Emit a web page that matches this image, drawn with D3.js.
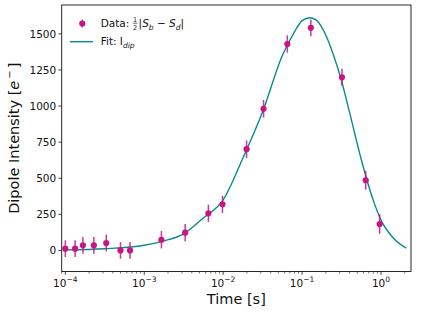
<!DOCTYPE html>
<html><head><meta charset="utf-8">
<script src="https://cdn.jsdelivr.net/npm/d3@7"></script>
<style>body{margin:0;background:#fff}svg{display:block;font-family:"DejaVu Sans",sans-serif}</style>
</head><body>
<svg id="c" width="424" height="313"></svg>
<script>
// Measured data
const times  = [1e-4, 1.33e-4, 1.67e-4, 2.3e-4, 3.3e-4, 5e-4, 6.6e-4, 1.65e-3, 3.3e-3, 6.5e-3, 9.8e-3, 0.0198, 0.0325, 0.065, 0.129, 0.32, 0.64, 0.96];
const values = [12, 12, 35, 35, 51, 0, 0, 74, 123, 257, 319, 701, 981, 1430, 1542, 1199, 486, 183];
const errors = [58, 58, 58, 58, 58, 58, 58, 60, 60, 60, 60, 61, 61, 60, 58, 59, 65, 68];
// Fit curve
const fitTimes  = [1e-4, 3.16e-4, 1e-3, 1.78e-3, 3.16e-3, 5.62e-3, 0.01, 0.0178, 0.0316, 0.0562, 0.0794, 0.1, 0.126, 0.158, 0.2, 0.251, 0.316, 0.398, 0.562, 0.794, 1.0, 1.41, 2.09];
const fitValues = [4, 12, 36, 66, 115, 225, 350, 640, 960, 1350, 1510, 1592, 1612, 1585, 1490, 1350, 1175, 960, 630, 350, 210, 90, 16];
const yTicks = [0, 250, 500, 750, 1000, 1250, 1500];
const xTickExps = [-4, -3, -2, -1, 0];

const svg = d3.select("#c");
const L = 61.7, R = 411, T = 5, B = 271.5;
const x = d3.scaleLog().domain([Math.pow(10,-4.046), Math.pow(10,0.38)]).range([L, R]);
const y = d3.scaleLinear().domain([-146, 1700]).range([B, T]);
const dataColor = "#C71585", fitColor = "#0a8a8c";

// fit line
const line = d3.line().x(d => x(d[0])).y(d => y(d[1])).curve(d3.curveMonotoneX);
svg.append("path").datum(fitTimes.map((t,i)=>[t, fitValues[i]]))
  .attr("d", line).attr("fill","none").attr("stroke", fitColor).attr("stroke-width",1.4);

// error bars + points
const g = svg.append("g");
times.forEach((t,i) => {
  g.append("line").attr("x1", x(t)).attr("x2", x(t))
    .attr("y1", y(values[i]-errors[i])).attr("y2", y(values[i]+errors[i]))
    .attr("stroke", dataColor).attr("stroke-width",1.5).attr("opacity",0.85);
});
times.forEach((t,i) => {
  g.append("circle").attr("cx", x(t)).attr("cy", y(values[i])).attr("r",3.1).attr("fill", dataColor);
});

// axes frame
svg.append("rect").attr("x",L).attr("y",T).attr("width",R-L).attr("height",B-T)
  .attr("fill","none").attr("stroke","#111").attr("stroke-width",0.9);

// y ticks
yTicks.forEach(v => {
  svg.append("line").attr("x1",L-3.3).attr("x2",L).attr("y1",y(v)).attr("y2",y(v)).attr("stroke","#111").attr("stroke-width",0.8);
  svg.append("text").attr("x",L-5.5).attr("y",y(v)).attr("dy","0.36em").attr("text-anchor","end")
    .attr("font-size","10.5px").attr("fill","#111").text(v);
});
// x major ticks
xTickExps.forEach(e => {
  const px = x(Math.pow(10,e));
  svg.append("line").attr("x1",px).attr("x2",px).attr("y1",B).attr("y2",B+3.3).attr("stroke","#111").attr("stroke-width",0.8);
  const t = svg.append("text").attr("x",px).attr("y",B+15.5).attr("text-anchor","middle").attr("font-size","10.5px").attr("fill","#111");
  t.append("tspan").text("10");
  t.append("tspan").attr("dy",-5).attr("font-size","7.5px").text(e===0 ? "0" : "\u2212"+(-e));
});
// x minor ticks
for (let e=-5; e<=0; e++) for (let m=2; m<=9; m++) {
  const v = m*Math.pow(10,e);
  if (v < x.domain()[0] || v > x.domain()[1]) continue;
  const px = x(v);
  svg.append("line").attr("x1",px).attr("x2",px).attr("y1",B).attr("y2",B+2).attr("stroke","#111").attr("stroke-width",0.6);
}

// axis labels
svg.append("text").attr("x",(L+R)/2).attr("y",304).attr("text-anchor","middle").attr("font-size","14.5px").attr("fill","#111").text("Time [s]");
const yl = svg.append("text").attr("transform",`translate(19,${(T+B)/2}) rotate(-90)`).attr("text-anchor","middle").attr("font-size","14.5px").attr("fill","#111");
yl.append("tspan").text("Dipole Intensity [");
yl.append("tspan").attr("font-style","italic").text("e");
yl.append("tspan").attr("dy",-6).attr("font-size","10px").text("\u2009\u2212\u2009");
yl.append("tspan").attr("dy",6).text("]");

// legend
const lg = svg.append("g");
lg.append("line").attr("x1",82.3).attr("x2",82.3).attr("y1",19.5).attr("y2",27.5).attr("stroke",dataColor).attr("stroke-width",1.5).attr("opacity",0.85);
lg.append("circle").attr("cx",82.3).attr("cy",23.5).attr("r",3.1).attr("fill",dataColor);
lg.append("line").attr("x1",70).attr("x2",93).attr("y1",41.7).attr("y2",41.7).attr("stroke",fitColor).attr("stroke-width",1.4);

const fs = 10.5;
const t1 = lg.append("text").attr("x",100.7).attr("y",27).attr("font-size",fs+"px").attr("fill","#111").text("Data:");
const w1 = t1.node().getComputedTextLength();
const fx = 100.7 + w1 + 3.3 + 2.5;
lg.append("text").attr("x",fx).attr("y",21.5).attr("text-anchor","middle").attr("font-size","6.5px").attr("fill","#111").text("1");
lg.append("line").attr("x1",fx-2.3).attr("x2",fx+2.3).attr("y1",23.2).attr("y2",23.2).attr("stroke","#111").attr("stroke-width",0.6);
lg.append("text").attr("x",fx).attr("y",29.5).attr("text-anchor","middle").attr("font-size","6.5px").attr("fill","#111").text("2");
const t2 = lg.append("text").attr("x",fx+3.5).attr("y",27).attr("font-size",fs+"px").attr("fill","#111").style("white-space","pre");
t2.append("tspan").text("|");
t2.append("tspan").attr("font-style","italic").text("S");
t2.append("tspan").attr("dy",2.5).attr("font-size","7.5px").attr("font-style","italic").text("b");
t2.append("tspan").attr("dy",-2.5).text(" \u2212 ");
t2.append("tspan").attr("font-style","italic").text("S");
t2.append("tspan").attr("dy",2.5).attr("font-size","7.5px").attr("font-style","italic").text("d");
t2.append("tspan").attr("dy",-2.5).text("|");

const t3 = lg.append("text").attr("x",100.7).attr("y",45).attr("font-size",fs+"px").attr("fill","#111");
t3.append("tspan").text("Fit: I");
t3.append("tspan").attr("dy",2.5).attr("font-size","7.5px").attr("font-style","italic").text("dip");
</script>
</body></html>
